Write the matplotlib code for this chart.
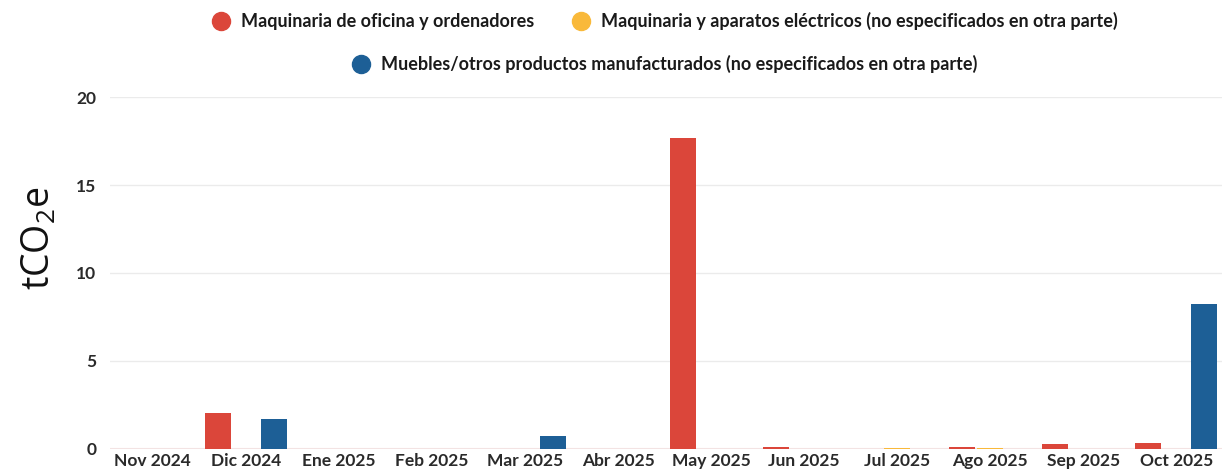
import matplotlib
matplotlib.use("Agg")
import matplotlib.pyplot as plt
import numpy as np
from matplotlib.lines import Line2D

months = ["Nov 2024", "Dic 2024", "Ene 2025", "Feb 2025", "Mar 2025", "Abr 2025",
          "May 2025", "Jun 2025", "Jul 2025", "Ago 2025", "Sep 2025", "Oct 2025"]
series_names = ["Maquinaria de oficina y ordenadores",
                "Maquinaria y aparatos eléctricos (no especificados en otra parte)",
                "Muebles/otros productos manufacturados (no especificados en otra parte)"]
oficina = [0.02, 2.05, 0, 0, 0, 0, 17.7, 0.1, 0, 0.12, 0.25, 0.35]
electricos = [0, 0, 0, 0, 0, 0, 0, 0, 0.03, 0.05, 0, 0]
muebles = [0, 1.7, 0, 0, 0.75, 0, 0, 0, 0, 0, 0, 8.25]
colors = ["#db463a", "#f9b93a", "#1d5f96"]

plt.rcParams['font.family'] = ['Lato', 'DejaVu Sans']

fig = plt.figure(figsize=(12.23, 4.76), dpi=100)
ax = fig.add_axes([0.09, 0.057, 0.909, 0.739])

x = np.arange(len(months))
w = 0.28
off = 0.30
for vals, c, o in zip([oficina, electricos, muebles], colors, [-off, 0, off]):
    ax.bar(x + o, vals, width=w, color=c, zorder=3)

ax.set_xlim(-0.46, 11.49)
ax.set_ylim(0, 20)
ax.set_yticks([0, 5, 10, 15, 20])
ax.yaxis.grid(True, color="#ebebeb", linewidth=1, zorder=0)
ax.axhline(0, color="#f3e3e3", linewidth=1.5, zorder=2)
for s in ax.spines.values():
    s.set_visible(False)
ax.tick_params(axis='both', length=0, labelsize=12.5, labelcolor="#2a2a2a")
ax.tick_params(axis='y', pad=10)
ax.tick_params(axis='x', pad=3)
ax.set_xticks(x)
ax.set_xticklabels(months)
for lbl in ax.get_xticklabels() + ax.get_yticklabels():
    lbl.set_fontweight('bold')

fig.text(0.032, 0.50, "tCO$_\\mathregular{2}$e", rotation=90, fontsize=27,
         ha='center', va='center', color="#111111", fontweight='normal',
         family=['Open Sans', 'DejaVu Sans'])

handles = [Line2D([0], [0], marker='o', linestyle='none', markersize=13,
                  markerfacecolor=c, markeredgecolor=c) for c in colors]
fig.legend(handles[:2], series_names[:2], loc='center', ncol=2,
           bbox_to_anchor=(0.54, 0.955), frameon=False,
           prop={'weight': 'bold', 'size': 13}, handletextpad=0.1,
           columnspacing=1.6)
fig.legend(handles[2:], series_names[2:], loc='center',
           bbox_to_anchor=(0.54, 0.865), frameon=False,
           prop={'weight': 'bold', 'size': 13}, handletextpad=0.1)
for leg in fig.legends:
    for t in leg.get_texts():
        t.set_color("#1a1a1a")

fig.savefig("out.png", dpi=100)
